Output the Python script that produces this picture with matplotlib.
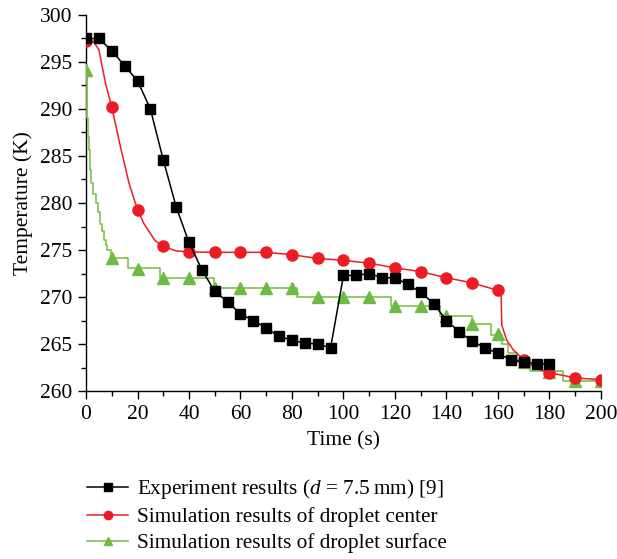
import matplotlib
matplotlib.use("Agg")
import matplotlib.pyplot as plt
from matplotlib.ticker import MultipleLocator

plt.rcParams['font.family'] = ['Liberation Serif', 'DejaVu Serif']
plt.rcParams['mathtext.fontset'] = 'custom'
plt.rcParams['mathtext.rm'] = 'Liberation Serif'
plt.rcParams['mathtext.it'] = 'Liberation Serif:italic'

# Experiment results
exp_t = [0, 5, 10, 15, 20, 25, 30, 35, 40, 45, 50, 55, 60, 65, 70, 75, 80, 85, 90, 95,
         100, 105, 110, 115, 120, 125, 130, 135, 140, 145, 150, 155, 160, 165, 170, 175, 180]
exp_T = [297.5, 297.5, 296.2, 294.6, 293.0, 290.0, 284.6, 279.6, 275.8, 272.9, 270.6, 269.5,
         268.2, 267.5, 266.7, 265.8, 265.4, 265.1, 265.0, 264.6,
         272.3, 272.3, 272.5, 272.05, 272.05, 271.35, 270.5, 269.3, 267.5, 266.3, 265.3,
         264.6, 264.0, 263.3, 263.1, 262.9, 262.9]

# Simulation: droplet center (curve + markers)
center_t = [0, 2.8, 5.0, 7.6, 10, 13.7, 16.7, 20, 22.5, 26.8, 30, 35, 40, 50, 60, 70, 80, 90,
            100, 110, 120, 130, 140, 150, 160, 161.2, 161.5, 163.4, 165.9, 170, 175, 180, 190, 200]
center_T = [297.3, 297.2, 296.3, 292.7, 290.2, 285.6, 282.1, 279.3, 277.8, 276.0, 275.4, 274.9,
            274.8, 274.75, 274.75, 274.75, 274.5, 274.1, 273.9, 273.6, 273.1, 272.7, 272.05,
            271.5, 270.7, 270.5, 267.0, 265.4, 264.4, 263.3, 262.4, 261.95, 261.4, 261.2]
center_mt = [0, 10, 20, 30, 40, 50, 60, 70, 80, 90, 100, 110, 120, 130, 140, 150, 160, 170, 180, 190, 200]
center_mT = [297.2, 290.2, 279.3, 275.4, 274.8, 274.75, 274.75, 274.75, 274.5, 274.1, 273.9,
             273.6, 273.1, 272.7, 272.05, 271.5, 270.7, 263.3, 261.95, 261.4, 261.2]

# Simulation: droplet surface (stepped line + markers)
surf_t = [0, 0.3, 0.7, 1.2, 1.7, 2.1, 2.9, 3.7, 4.5, 5.4, 6.2, 7.0, 7.6, 8.3, 9.6, 16.4, 28.7,
          49.8, 82.0, 118.3, 137.5, 149.8, 157.3, 161.4, 164.0, 167.5, 172.4, 185.4, 200]
surf_T = [294.2, 289.0, 287.0, 285.6, 283.5, 282.1, 281.0, 280.0, 279.0, 277.8, 277.0, 276.1,
          275.5, 275.0, 274.1, 273.05, 272.0, 271.0, 270.0, 269.0, 268.0, 267.1, 266.0, 265.0,
          264.0, 263.1, 262.1, 261.1, 261.1]
surf_mt = [0, 10, 20, 30, 40, 50, 60, 70, 80, 90, 100, 110, 120, 130, 140, 150, 160, 170, 180, 190, 200]
surf_mT = [294.2, 274.1, 273.0, 272.0, 272.0, 271.0, 271.0, 271.0, 271.0, 270.0, 270.0, 270.0,
           269.0, 269.0, 268.0, 267.1, 266.1, 263.1, 262.05, 261.1, 261.1]

labels = ["Experiment results ($d$ = 7.5\u2009mm) [9]",
          "Simulation results of droplet center",
          "Simulation results of droplet surface"]

red = '#ED1C24'
green_line = '#7DC24B'
green_mark = '#6DBB45'

fig = plt.figure(figsize=(6.17, 5.59), dpi=100)
ax = fig.add_axes([0.1394, 0.3005, 0.8346, 0.6727])

ax.plot(exp_t, exp_T, color='black', lw=1.1, marker='s', ms=7, zorder=5)
l_c, = ax.plot(center_t, center_T, color=red, lw=1.1, zorder=4)
m_c, = ax.plot(center_mt, center_mT, ls='none', marker='o', ms=8, color=red, zorder=4)
l_s, = ax.plot(surf_t, surf_T, color=green_line, lw=1.2, drawstyle='steps-post', zorder=3)
m_s, = ax.plot(surf_mt, surf_mT, ls='none', marker='^', ms=8.5, color=green_mark, zorder=3)

ax.set_xlim(0, 200)
ax.set_ylim(260, 300)
ax.xaxis.set_major_locator(MultipleLocator(20))
ax.xaxis.set_minor_locator(MultipleLocator(10))
ax.yaxis.set_major_locator(MultipleLocator(5))
ax.yaxis.set_minor_locator(MultipleLocator(2.5))
for s in ['top', 'right']:
    ax.spines[s].set_visible(False)
for s in ['left', 'bottom']:
    ax.spines[s].set_linewidth(1.0)
ax.tick_params(which='major', direction='out', length=6, width=1.0, labelsize=15.5, pad=4)
ax.tick_params(which='minor', direction='out', length=3.5, width=1.0)
ax.set_xlabel("Time (s)", fontsize=15.5, labelpad=5)
ax.set_ylabel("Temperature (K)", fontsize=15.5, labelpad=5)

exp_handle = ax.lines[0]
fig.legend([exp_handle, (l_c, m_c), (l_s, m_s)], labels,
           loc='upper left', bbox_to_anchor=(0.141, 0.146), frameon=False,
           fontsize=15.3, handlelength=1.95, handletextpad=0.4, labelspacing=0.28,
           borderaxespad=0, borderpad=0, markerscale=0.75)

fig.savefig("out.png", dpi=100)
